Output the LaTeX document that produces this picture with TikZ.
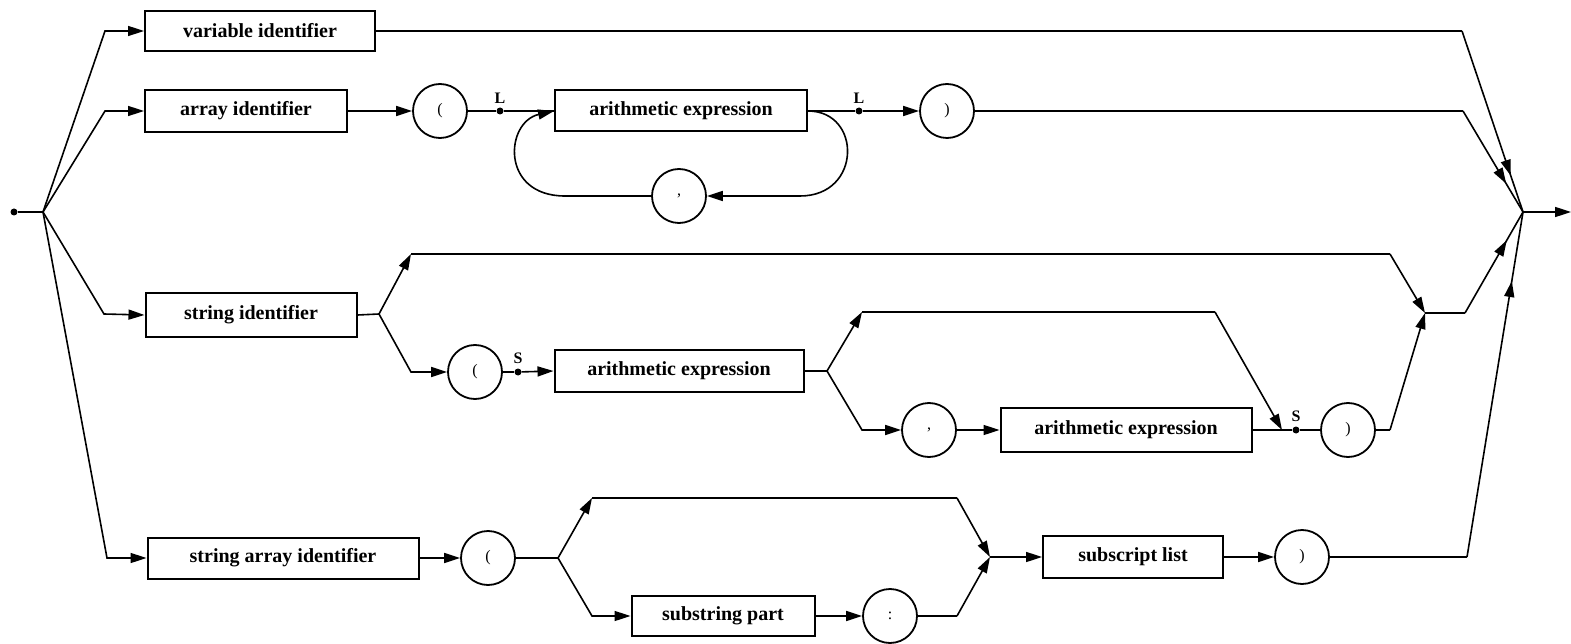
\documentclass[tikz,border=0pt]{standalone}
\usepackage{fontspec}
\setmainfont{Liberation Serif}
\usetikzlibrary{arrows.meta,decorations.markings}

\tikzset{
  conn/.style={line width=1.6pt},
  box/.style={draw, line width=2pt, minimum height=42pt, inner sep=0pt,
    font=\bfseries\fontsize{20}{22}\selectfont},
  term/.style={draw, circle, line width=1.8pt, minimum size=54pt, inner sep=0pt,
    font=\fontsize{16}{18}\selectfont},
  joint/.style={circle, fill, inner sep=0pt, minimum size=7pt},
  lbl/.style={font=\bfseries\fontsize{16}{18}\selectfont, inner sep=1pt},
  tip/.style={-{Triangle[length=16pt,width=10pt]}},
  arrowat/.style={postaction={decorate}, decoration={markings,
    mark=at position #1 with {\arrow{Triangle[length=16pt,width=10pt]}}}},
}

\begin{document}
\begin{tikzpicture}[x=1pt, y=-1pt]
\useasboundingbox (0,0) rectangle (1571,644);

% entry and exit
\node[joint] (start) at (14,212) {};
\coordinate (J0) at (43,212);
\coordinate (J1) at (1523,212);
\coordinate (out) at (1571,212);

% variable identifier
\coordinate (b1) at (105,31);
\node[box, minimum width=230pt, minimum height=40pt] (vi) at (260,31) {variable identifier};
\coordinate (r1) at (1462,31);

% array identifier ( arithmetic expression {, ...} )
\coordinate (b2) at (105,111);
\node[box, minimum width=202pt] (ai) at (246,111) {array identifier};
\node[term] (lp1) at (440,111) {(};
\node[joint] (L1) at (500,111) {};
\node[box, minimum width=252pt, minimum height=41pt] (ae1) at (681,111) {arithmetic expression};
\node[joint] (L2) at (859,111) {};
\node[term] (rp1) at (947,111) {)};
\node[term] (cm1) at (679,196) {,};
\coordinate (r2) at (1463,111);
\node[lbl, above=3pt] (labL1) at (L1.north) {L};
\node[lbl, above=3pt] (labL2) at (L2.north) {L};

% string identifier with optional substring
\coordinate (b3) at (104,314);
\node[box, minimum width=211pt, minimum height=44pt] (si) at (251,315) {string identifier};
\coordinate (s1) at (379,314);
\coordinate (u1) at (411,254);
\coordinate (u1r) at (1390,254);
\coordinate (m1) at (1425,313);
\coordinate (m1r) at (1465,313);
\coordinate (d1) at (411,372);
\node[term] (lp2) at (475,372) {(};
\node[joint] (S1) at (518,372) {};
\node[box, minimum width=249pt] (ae2) at (679,371) {arithmetic expression};
\coordinate (s2) at (827,371);
\coordinate (u2) at (862,312);
\coordinate (u2r) at (1215,312);
\coordinate (d2) at (862,430);
\node[term] (cm2) at (929,430) {,};
\node[box, minimum width=251pt, minimum height=44pt] (ae3) at (1126,430) {arithmetic expression};
\coordinate (k) at (1282,430);
\node[joint] (S2) at (1296,430) {};
\node[term] (rp2) at (1348,430) {)};
\coordinate (r3) at (1390,430);
\node[lbl, above=3pt] (labS1) at (S1.north) {S};
\node[lbl, above=3pt] (labS2) at (S2.north) {S};

% string array identifier
\coordinate (b4) at (107,558);
\node[box, minimum width=271pt, minimum height=41pt] (sai) at (283,558) {string array identifier};
\node[term] (lp3) at (488,558) {(};
\coordinate (s3) at (558,558);
\coordinate (u3) at (592,498);
\coordinate (u3r) at (957,498);
\coordinate (m2) at (990,557);
\coordinate (d3) at (592,616);
\node[box, minimum width=183pt, minimum height=40pt] (sp) at (723,616) {substring part};
\node[term] (col) at (890,616) {:};
\coordinate (d3r) at (957,616);
\node[box, minimum width=180pt] (sl) at (1133,557) {subscript list};
\node[term] (rp3) at (1302,557) {)};
\coordinate (r4) at (1467,557);

% ---- connectors ----
\draw[conn] (start) -- (J0);

% row 1
\draw[conn, tip] (J0) -- (b1) -- (vi.west);
\draw[conn] (vi.east) -- (r1);
\draw[conn, arrowat=0.8] (r1) -- (J1);

% row 2
\draw[conn, tip] (J0) -- (b2) -- (ai.west);
\draw[conn, tip] (ai.east) -- (lp1.west);
\draw[conn] (lp1.east) -- (L1) -- (ae1.west);
\draw[conn] (ae1.east) -- (L2);
\draw[conn, tip] (L2) -- (rp1.west);
\draw[conn] (rp1.east) -- (r2);
\draw[conn, arrowat=0.72] (r2) -- (J1);
\draw[conn, tip] (ae1.east) .. controls (862,111) and (862,196) .. (800,196) -- (cm1.east);
\draw[conn, tip] (cm1.west) -- (565,196) .. controls (500,196) and (505,122) .. (ae1.west);

% row 3
\draw[conn, tip] (J0) -- (b3) -- (si.west);
\draw[conn] (si.east) -- (s1);
\draw[conn, tip] (s1) -- (u1);
\draw[conn] (u1) -- (u1r);
\draw[conn, tip] (u1r) -- (m1);
\draw[conn] (m1) -- (m1r);
\draw[conn, arrowat=0.72] (m1r) -- (J1);
\draw[conn, tip] (s1) -- (d1) -- (lp2.west);
\draw[conn] (lp2.east) -- (S1);
\draw[conn, tip] (S1) -- (ae2.west);
\draw[conn] (ae2.east) -- (s2);
\draw[conn, tip] (s2) -- (u2);
\draw[conn] (u2) -- (u2r);
\draw[conn, tip] (u2r) -- (k);
\draw[conn, tip] (s2) -- (d2) -- (cm2.west);
\draw[conn, tip] (cm2.east) -- (ae3.west);
\draw[conn] (ae3.east) -- (S2) -- (rp2.west);
\draw[conn] (rp2.east) -- (r3);
\draw[conn, tip] (r3) -- (m1);

% row 4
\draw[conn, tip] (J0) -- (b4) -- (sai.west);
\draw[conn, tip] (sai.east) -- (lp3.west);
\draw[conn] (lp3.east) -- (s3);
\draw[conn, tip] (s3) -- (u3);
\draw[conn] (u3) -- (u3r);
\draw[conn, tip] (u3r) -- (m2);
\draw[conn, tip] (s3) -- (d3) -- (sp.west);
\draw[conn, tip] (sp.east) -- (col.west);
\draw[conn] (col.east) -- (d3r);
\draw[conn, tip] (d3r) -- (m2);
\draw[conn, tip] (m2) -- (sl.west);
\draw[conn, tip] (sl.east) -- (rp3.west);
\draw[conn] (rp3.east) -- (r4);
\draw[conn, arrowat=0.8] (r4) -- (J1);

% exit
\draw[conn, tip] (J1) -- (out);
\end{tikzpicture}
\end{document}
